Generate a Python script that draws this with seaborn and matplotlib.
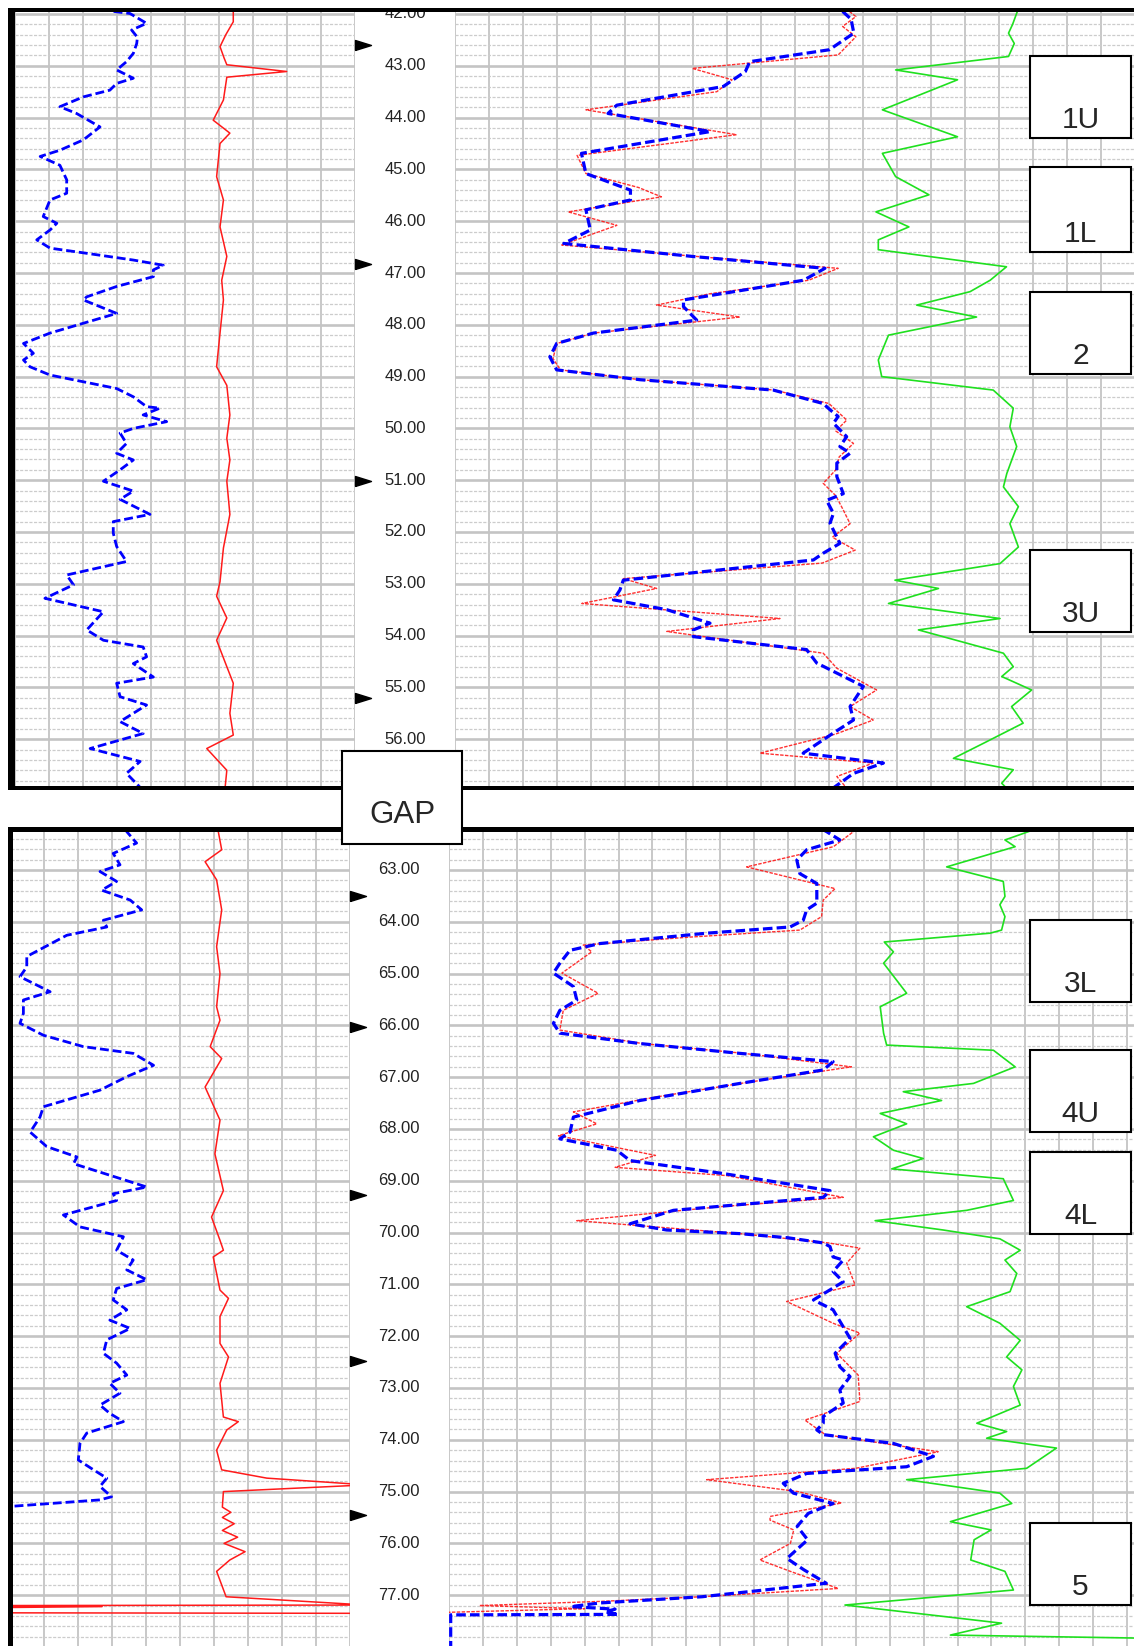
import numpy as np
import matplotlib
matplotlib.use("Agg")
import matplotlib.pyplot as plt
import seaborn as sns
from matplotlib.patches import Rectangle
from matplotlib.transforms import blended_transform_factory

# ---------------- log data (depth m, value in grid divisions) ----------------
# upper interval 42 - 57 m
TOP_GR = [  # left track, blue dashed
    (41.95, 2.90), (41.99, 3.38), (42.18, 3.87), (42.31, 3.43), (42.45, 3.60), (42.57, 3.58),
    (42.76, 3.48), (42.92, 3.28), (43.08, 2.99), (43.24, 3.48), (43.34, 2.99), (43.47, 2.79),
    (43.60, 2.01), (43.79, 1.32), (43.92, 1.81), (44.18, 2.50), (44.43, 2.01), (44.63, 1.32),
    (44.75, 0.74), (44.92, 1.32), (45.20, 1.52), (45.46, 1.52), (45.59, 1.03), (45.91, 0.83),
    (46.04, 1.23), (46.17, 1.03), (46.36, 0.64), (46.52, 1.03), (46.62, 2.11), (46.75, 3.48),
    (46.85, 4.36), (46.94, 4.07), (47.07, 4.07), (47.26, 2.99), (47.46, 2.11), (47.52, 2.01),
    (47.65, 2.50), (47.78, 2.99), (47.97, 2.01), (48.16, 1.03), (48.36, 0.25), (48.55, 0.54),
    (48.68, 0.25), (48.81, 0.44), (48.97, 1.03), (49.10, 2.01), (49.23, 2.99), (49.39, 3.48),
    (49.58, 3.87), (49.61, 4.26), (49.74, 3.77), (49.87, 4.46), (50.00, 3.48), (50.09, 3.09),
    (50.29, 3.28), (50.48, 2.99), (50.61, 3.48), (50.80, 3.09), (51.02, 2.60), (51.21, 3.48),
    (51.37, 3.09), (51.66, 3.97), (51.80, 2.89), (52.02, 2.89), (52.28, 2.99), (52.57, 3.28),
    (52.83, 1.52), (53.02, 1.72), (53.28, 0.88), (53.54, 2.60), (53.89, 2.11), (54.09, 2.60),
    (54.22, 3.77), (54.41, 3.87), (54.54, 3.48), (54.80, 4.07), (54.92, 2.99), (55.18, 3.09),
    (55.34, 3.87), (55.66, 3.09), (55.89, 3.77), (56.18, 2.21), (56.43, 3.68), (56.66, 3.28),
    (56.93, 3.68),
]
TOP_CAL = [  # left track, red solid
    (41.95, 6.42), (42.15, 6.42), (42.40, 6.20), (42.63, 6.03), (42.85, 6.15), (42.98, 6.23),
    (43.11, 7.99), (43.22, 6.23), (43.66, 6.13), (44.05, 5.83), (44.30, 6.32), (44.50, 6.03),
    (45.14, 5.93), (45.59, 6.13), (46.11, 6.03), (46.68, 6.23), (47.14, 6.08), (47.52, 6.13),
    (48.16, 6.03), (48.81, 5.93), (49.17, 6.23), (49.74, 6.32), (50.19, 6.23), (50.61, 6.32),
    (51.02, 6.23), (51.66, 6.32), (52.31, 6.13), (52.96, 6.03), (53.24, 5.93), (53.66, 6.23),
    (54.09, 5.93), (54.60, 6.23), (54.92, 6.42), (55.50, 6.32), (55.92, 6.42), (56.18, 5.64),
    (56.60, 6.23), (56.93, 6.18),
]
TOP_DEEP = [  # right track, blue dashed
    (41.95, 11.40), (42.10, 11.65), (42.37, 11.73), (42.69, 11.01), (42.92, 8.67), (43.11, 8.54),
    (43.40, 7.89), (43.76, 4.76), (43.92, 4.50), (44.27, 7.50), (44.69, 3.72), (45.08, 3.85),
    (45.40, 5.16), (45.59, 5.16), (45.78, 3.85), (46.17, 3.98), (46.43, 3.20), (46.68, 6.98),
    (46.91, 10.88), (47.14, 10.25), (47.52, 6.72), (47.65, 6.72), (47.91, 7.11), (48.16, 4.07),
    (48.36, 2.99), (48.62, 2.79), (48.87, 2.99), (49.06, 5.44), (49.26, 9.36), (49.52, 10.83),
    (49.64, 11.03), (49.77, 11.27), (49.90, 11.13), (50.16, 11.52), (50.35, 11.32), (50.48, 11.62),
    (50.67, 11.23), (50.93, 11.23), (51.26, 11.42), (51.39, 10.93), (51.64, 11.13), (51.83, 11.03),
    (52.22, 11.32), (52.41, 10.83), (52.54, 10.54), (52.93, 4.95), (53.12, 4.85), (53.31, 4.66),
    (53.50, 6.23), (53.76, 7.50), (53.89, 7.01), (54.02, 7.01), (54.27, 10.34), (54.53, 10.64),
    (54.98, 12.01), (55.37, 11.62), (55.63, 11.72), (55.88, 11.13), (56.27, 10.24), (56.46, 12.60),
    (56.66, 11.72), (56.93, 11.15),
]
TOP_SHAL = [  # right track, red dotted
    (41.95, 11.60), (42.05, 11.79), (42.24, 11.40), (42.44, 11.79), (42.79, 11.27), (43.05, 6.98),
    (43.27, 8.15), (43.50, 7.70), (43.85, 3.85), (44.33, 8.28), (44.73, 3.59), (45.08, 3.85),
    (45.35, 5.40), (45.53, 6.07), (45.82, 3.33), (46.08, 4.76), (46.46, 3.14), (46.68, 7.10),
    (46.91, 11.27), (47.14, 10.40), (47.40, 7.50), (47.62, 5.93), (47.85, 8.38), (48.16, 4.07),
    (48.36, 3.00), (48.65, 2.88), (48.87, 3.10), (49.06, 5.44), (49.26, 9.40), (49.52, 11.00),
    (49.84, 11.52), (50.05, 11.20), (50.29, 11.72), (50.55, 11.30), (50.80, 11.20), (51.06, 10.83),
    (51.30, 11.20), (51.55, 11.40), (51.84, 11.62), (52.10, 11.10), (52.35, 11.77), (52.60, 10.80),
    (52.90, 4.95), (53.09, 5.93), (53.38, 3.73), (53.67, 9.56), (53.92, 6.23), (54.34, 10.83),
    (54.63, 11.23), (55.05, 12.40), (55.37, 11.62), (55.63, 12.30), (55.90, 11.20), (56.27, 8.97),
    (56.46, 12.30), (56.72, 11.23), (56.93, 11.50),
]
TOP_SP = [  # right track, green
    (41.95, 16.54), (42.20, 16.40), (42.37, 16.28), (42.57, 16.45), (42.82, 16.28), (43.08, 12.96),
    (43.27, 14.78), (43.85, 12.57), (44.37, 14.78), (44.69, 12.57), (45.14, 12.96), (45.49, 13.94),
    (45.82, 12.38), (46.11, 13.35), (46.36, 12.45), (46.55, 12.45), (46.88, 16.22), (47.14, 15.74),
    (47.36, 15.15), (47.62, 13.58), (47.85, 15.34), (48.20, 12.75), (48.68, 12.45), (49.00, 12.55),
    (49.26, 15.83), (49.61, 16.42), (49.97, 16.32), (50.35, 16.52), (50.87, 16.23), (51.13, 16.13),
    (51.51, 16.57), (51.84, 16.32), (52.29, 16.57), (52.61, 16.03), (52.93, 12.94), (53.09, 14.22),
    (53.38, 12.75), (53.67, 16.03), (53.89, 13.63), (54.34, 16.13), (54.60, 16.42), (54.79, 16.08),
    (55.05, 16.96), (55.37, 16.37), (55.69, 16.71), (56.08, 15.54), (56.37, 14.66), (56.59, 16.42),
    (56.85, 16.08), (56.93, 16.20),
]

# lower interval 62 - 78 m
BOT_GR = [
    (62.21, 3.40), (62.26, 3.43), (62.48, 3.72), (62.68, 3.03), (62.90, 3.23), (63.03, 2.64),
    (63.22, 3.13), (63.39, 2.69), (63.58, 3.53), (63.77, 3.87), (63.97, 2.74), (64.10, 2.84),
    (64.26, 1.66), (64.67, 0.48), (64.87, 0.48), (65.06, 0.28), (65.35, 1.17), (65.51, 0.38),
    (65.77, 0.38), (65.96, 0.28), (66.19, 0.97), (66.41, 2.15), (66.54, 3.62), (66.77, 4.22),
    (66.99, 3.43), (67.25, 2.64), (67.57, 0.97), (67.77, 0.87), (68.06, 0.58), (68.34, 1.07),
    (68.54, 1.96), (68.67, 1.86), (69.12, 4.02), (69.25, 3.03), (69.38, 3.13), (69.66, 1.56),
    (69.89, 2.05), (70.08, 3.33), (70.34, 3.13), (70.53, 3.62), (70.72, 3.43), (70.91, 4.02),
    (71.08, 3.13), (71.30, 3.03), (71.49, 3.43), (71.69, 2.93), (71.85, 3.53), (72.07, 2.84),
    (72.33, 2.74), (72.52, 3.13), (72.75, 3.43), (72.91, 2.93), (73.10, 3.23), (73.33, 2.64),
    (73.49, 2.93), (73.65, 3.33), (73.87, 2.25), (74.07, 2.05), (74.39, 2.00), (74.58, 2.45),
    (74.74, 2.84), (74.90, 2.64), (75.10, 2.98), (75.16, 2.64), (75.30, -0.30),
]
BOT_CAL = [
    (62.21, 6.10), (62.26, 6.13), (62.61, 6.23), (62.84, 5.74), (63.19, 6.08), (63.77, 6.23),
    (64.48, 6.08), (65.00, 6.18), (65.64, 6.08), (65.90, 6.18), (66.41, 5.89), (66.64, 6.23),
    (67.19, 5.74), (67.83, 6.18), (68.48, 6.03), (69.19, 6.28), (69.70, 5.93), (70.15, 6.18),
    (70.34, 6.28), (70.47, 5.98), (71.11, 6.18), (71.27, 6.43), (71.62, 6.18), (72.14, 6.18),
    (72.40, 6.43), (72.91, 6.18), (73.56, 6.28), (73.65, 6.72), (73.81, 6.38), (74.20, 6.08),
    (74.58, 6.23), (74.74, 7.56), (74.87, 10.50), (75.00, 6.28), (75.30, 6.25), (75.40, 6.50),
    (75.50, 6.25), (75.62, 6.60), (75.75, 6.25), (75.88, 6.70), (76.00, 6.30), (76.16, 6.92),
    (76.32, 6.47), (76.54, 6.08), (77.03, 6.36), (77.19, 10.50), (77.20, -0.50), (77.22, 2.70),
    (77.24, -0.50), (77.34, -0.50), (77.35, 10.50),
]
BOT_DEEP = [
    (62.21, 11.00), (62.26, 11.14), (62.42, 11.53), (62.61, 10.55), (62.81, 10.26), (63.07, 10.35),
    (63.26, 10.85), (63.64, 10.85), (63.77, 10.55), (63.97, 10.45), (64.10, 10.06), (64.22, 7.60),
    (64.42, 4.45), (64.55, 3.57), (64.80, 3.27), (64.99, 3.08), (65.25, 3.67), (65.51, 3.77),
    (65.71, 3.27), (65.96, 3.08), (66.15, 3.27), (66.35, 5.63), (66.54, 8.58), (66.70, 11.33),
    (66.86, 11.04), (67.12, 8.58), (67.45, 5.63), (67.61, 4.65), (67.77, 3.67), (68.06, 3.57),
    (68.19, 3.27), (68.41, 4.95), (68.61, 5.34), (68.86, 8.09), (69.19, 11.24), (69.32, 11.04),
    (69.57, 6.62), (69.83, 5.34), (69.95, 6.42), (70.02, 8.58), (70.10, 10.00), (70.20, 11.04),
    (70.27, 11.24), (70.47, 11.33), (70.53, 11.63), (70.75, 11.33), (70.95, 11.63), (71.30, 10.75),
    (71.49, 11.33), (71.82, 11.63), (72.04, 11.83), (72.33, 11.39), (72.59, 11.53), (72.78, 11.83),
    (73.04, 11.53), (73.29, 11.63), (73.55, 11.04), (73.68, 11.04), (73.81, 10.85), (73.90, 11.04),
    (74.07, 13.11), (74.32, 14.29), (74.52, 13.50), (74.65, 10.55), (74.84, 9.86), (75.03, 10.16),
    (75.23, 11.33), (75.42, 10.60), (75.67, 10.27), (75.93, 10.58), (76.29, 9.97), (76.51, 10.47),
    (76.77, 11.13), (77.03, 7.46), (77.15, 4.45), (77.22, 3.60), (77.27, 4.90), (77.32, 4.60),
    (77.37, 5.00), (77.38, 0.05), (77.98, 0.05),
]
BOT_SHAL = [
    (62.21, 11.70), (62.26, 11.93), (62.55, 11.34), (62.94, 8.78), (63.36, 11.39), (63.58, 11.04),
    (63.90, 10.99), (64.16, 10.35), (64.30, 7.00), (64.45, 3.96), (64.58, 4.21), (64.99, 3.33),
    (65.38, 4.40), (65.71, 3.37), (66.09, 3.27), (66.35, 5.70), (66.54, 8.70), (66.80, 11.87),
    (67.12, 8.60), (67.38, 6.13), (67.67, 3.67), (67.90, 4.36), (68.13, 3.23), (68.51, 6.09),
    (68.74, 4.90), (68.90, 8.20), (69.32, 11.63), (69.50, 8.00), (69.77, 3.77), (70.02, 8.58),
    (70.20, 11.20), (70.30, 12.12), (70.59, 11.73), (71.01, 11.98), (71.33, 9.96), (71.75, 11.33),
    (71.94, 12.12), (72.33, 11.44), (72.75, 12.07), (73.26, 12.12), (73.62, 10.50), (73.90, 11.10),
    (74.23, 14.43), (74.55, 12.00), (74.77, 7.60), (75.00, 10.30), (75.22, 11.58), (75.48, 9.47),
    (75.55, 9.47), (75.74, 10.17), (76.00, 10.07), (76.32, 9.17), (76.54, 10.07), (76.87, 11.48),
    (77.03, 7.46), (77.12, 4.45), (77.20, 0.90), (77.26, 4.00), (77.33, 0.00),
]
BOT_SP = [
    (62.21, 17.30), (62.26, 17.09), (62.42, 16.40), (62.55, 16.70), (62.94, 14.68), (63.22, 16.35),
    (63.51, 16.40), (63.67, 16.25), (63.90, 16.40), (64.16, 16.30), (64.22, 15.96), (64.39, 12.84),
    (64.58, 13.11), (64.80, 12.82), (65.38, 13.50), (65.64, 12.72), (66.15, 12.82), (66.38, 12.91),
    (66.48, 16.06), (66.80, 16.70), (67.12, 15.47), (67.28, 13.40), (67.45, 14.53), (67.70, 12.72),
    (67.90, 13.50), (68.15, 12.52), (68.41, 13.11), (68.57, 13.99), (68.77, 13.06), (68.96, 16.35),
    (69.38, 16.65), (69.57, 15.27), (69.77, 12.57), (69.95, 14.58), (70.12, 16.25), (70.34, 16.85),
    (70.53, 16.40), (70.79, 16.75), (71.14, 16.55), (71.43, 15.27), (71.75, 16.25), (72.08, 16.85),
    (72.40, 16.45), (72.65, 16.90), (72.97, 16.65), (73.33, 16.85), (73.68, 15.57), (73.84, 16.45),
    (73.97, 15.86), (74.16, 17.92), (74.55, 17.04), (74.77, 13.50), (75.03, 16.25), (75.23, 16.60),
    (75.58, 14.79), (75.74, 15.99), (75.93, 15.49), (76.32, 15.39), (76.54, 16.40), (76.90, 16.65),
    (77.19, 11.68), (77.54, 16.30), (77.77, 14.79), (77.83, 20.50),
]

ZONE_NAMES = ["1U", "1L", "2", "3U", "3L", "4U", "4L", "5"]
ZONE_TOP = [42.81, 44.95, 47.37, 52.35, 63.97, 66.48, 68.44, 75.61]
ZONE_BASE = [44.39, 46.59, 48.95, 53.93, 65.55, 68.06, 70.02, 77.19]

TOP_LABELS = list(range(42, 57))
BOT_LABELS = list(range(63, 78))
TOP_ARROWS = [42.60, 46.83, 51.02, 55.20]
BOT_ARROWS = [63.50, 66.03, 69.27, 72.48, 75.45]

# ---------------- layout (pixels) ----------------
W, H = 1134, 1646
PX_PER_M = 51.8
PANELS = [
    dict(y0=12, y1=787, d_top=42 - 2 / PX_PER_M, xl=15, xd=355, xr=455, col=34.0,
         curves=(TOP_GR, TOP_CAL, TOP_DEEP, TOP_SHAL, TOP_SP), labels=TOP_LABELS, arrows=TOP_ARROWS),
    dict(y0=829, y1=1646, d_top=63 - 41 / PX_PER_M, xl=10.5, xd=349.5, xr=449, col=33.9,
         curves=(BOT_GR, BOT_CAL, BOT_DEEP, BOT_SHAL, BOT_SP), labels=BOT_LABELS, arrows=BOT_ARROWS),
]
BOX_X0, BOX_X1 = 1030, 1131

sns.set_style("white")
plt.rcParams["font.family"] = ["Liberation Sans", "DejaVu Sans"]

BLUE = "#0000ff"
RED = "#ff1a1a"
GREEN = "#1fe01f"
GRID = "#c4c4c4"


def px_axes(fig, x0, y0, x1, y1):
    return fig.add_axes([x0 / W, 1 - y1 / H, (x1 - x0) / W, (y1 - y0) / H])


def px_rect(fig, x0, y0, x1, y1, **kw):
    r = Rectangle((x0 / W, 1 - y1 / H), (x1 - x0) / W, (y1 - y0) / H,
                  transform=fig.transFigure, **kw)
    fig.add_artist(r)
    return r


def style_track(ax, ncols, d_top, d_bot):
    ax.set_xlim(0, ncols)
    ax.set_ylim(d_bot, d_top)
    ax.set_xticks(np.arange(0, int(ncols) + 1))
    ax.set_yticks(np.arange(np.ceil(d_top), d_bot, 1.0))
    ax.set_yticks(np.round(np.arange(np.ceil(d_top * 5) / 5, d_bot, 0.2), 2), minor=True)
    ax.grid(which="major", axis="x", color=GRID, lw=1.3)
    ax.grid(which="major", axis="y", color=GRID, lw=1.9)
    ax.grid(which="minor", axis="y", color="#cccccc", lw=0.9, ls=(0, (2.5, 1.2)))
    ax.tick_params(which="both", length=0, labelleft=False, labelbottom=False)
    for s in ax.spines.values():
        s.set_visible(False)
    ax.set_axisbelow(True)
    ax.set_xlabel("")
    ax.set_ylabel("")


def draw_log(ax, pts, **kw):
    arr = np.array(pts)
    sns.lineplot(x=arr[:, 1], y=arr[:, 0], sort=False, estimator=None, ax=ax, **kw)


fig = plt.figure(figsize=(W / 100, H / 100), dpi=100)
arrow_marker = [(0, -1), (3.2, 0), (0, 1), (0, -1)]

for p in PANELS:
    d_top = p["d_top"]
    d_bot = d_top + (p["y1"] - p["y0"]) / PX_PER_M
    gr, cal, deep, shal, sp = p["curves"]

    # left track
    axl = px_axes(fig, p["xl"], p["y0"], p["xd"], p["y1"])
    draw_log(axl, cal, color=RED, lw=1.1)
    draw_log(axl, gr, color=BLUE, lw=2.0, dashes=(3.2, 1.4))
    style_track(axl, (p["xd"] - p["xl"]) / p["col"], d_top, d_bot)

    # depth track
    axd = px_axes(fig, p["xd"], p["y0"], p["xr"], p["y1"])
    axd.set_xlim(0, 1)
    axd.set_ylim(d_bot, d_top)
    axd.axis("off")
    for d in p["labels"]:
        axd.text(0.5, d, f"{d:.2f}", ha="center", va="center", fontsize=12,
                 color="#222222", clip_on=True)
    axd.plot(np.zeros(len(p["arrows"])), p["arrows"], ls="none", marker=arrow_marker,
             ms=23, color="black", clip_on=False)

    # right track
    axr = px_axes(fig, p["xr"], p["y0"], W, p["y1"])
    draw_log(axr, sp, color=GREEN, lw=1.2)
    draw_log(axr, shal, color=RED, lw=1.0, dashes=(2.5, 1.0), alpha=0.9)
    draw_log(axr, deep, color=BLUE, lw=2.3, dashes=(3.0, 1.3))
    style_track(axr, (W - p["xr"]) / p["col"], d_top, d_bot)

    # zone boxes
    blend = blended_transform_factory(axr.transAxes, axr.transData)
    bx0 = (BOX_X0 - p["xr"]) / (W - p["xr"])
    bw = (BOX_X1 - BOX_X0) / (W - p["xr"])
    for name, zt, zb in zip(ZONE_NAMES, ZONE_TOP, ZONE_BASE):
        if not (d_top < zt < d_bot):
            continue
        axr.add_patch(Rectangle((bx0, zt), bw, zb - zt, transform=blend, facecolor="white",
                                edgecolor="black", lw=1.5, clip_on=False, zorder=5))
        axr.text(bx0 + bw / 2, zb - 10 / PX_PER_M, name, transform=blend, ha="center",
                 va="baseline", fontsize=21.5, zorder=6)

# panel frames
px_rect(fig, 8, 8, W, 12, color="black", lw=0, zorder=3)
px_rect(fig, 8, 8, 15, 790, color="black", lw=0, zorder=3)
px_rect(fig, 8, 786.5, W, 790, color="black", lw=0, zorder=3)
px_rect(fig, 8, 827, W, 832, color="black", lw=0, zorder=3)
px_rect(fig, 8, 827, 12.5, H, color="black", lw=0, zorder=3)

# gap box
px_rect(fig, 342, 751, 462, 844, facecolor="white", edgecolor="black", lw=1.5, zorder=6)
fig.text(402 / W, 1 - 823 / H, "GAP", ha="center", va="baseline", fontsize=22.5, zorder=7)

fig.savefig("out.png", dpi=100)
